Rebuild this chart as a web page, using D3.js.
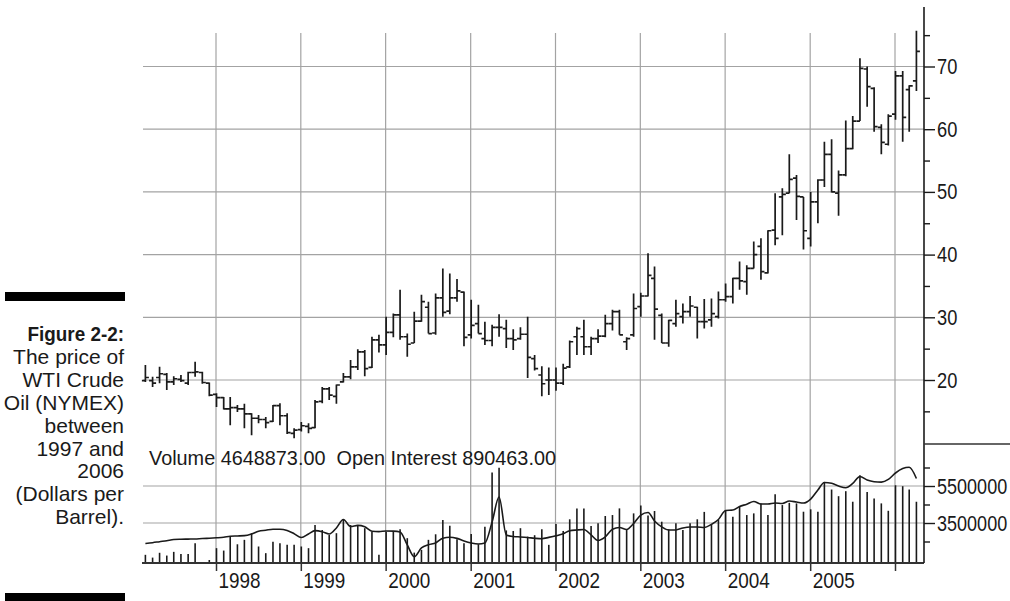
<!DOCTYPE html>
<html>
<head>
<meta charset="utf-8">
<script src="https://cdn.jsdelivr.net/npm/d3@7"></script>
<style>
  body { margin: 0; background: #fff; }
  svg text { font-family: "Liberation Sans", Arial, Helvetica, sans-serif; fill: #1a1a1a; }
</style>
</head>
<body>
<svg id="chart" width="1010" height="601"></svg>
<script>

// monthly OHLC, WTI crude (NYMEX), Mar 1997 .. Apr 2006
var openPrice = [
  19.9, 19.9, 20.4, 20.9, 19.7, 20.1, 19.5, 21.2, 21.2, 19.5,
  17.7, 17.2, 15.4, 15.6, 15.4, 14.6, 13.9, 13.7, 13.4, 15.9, 14.3, 11.5,
  12.1, 12.6, 12.4, 16.6, 18.6, 17.4, 19.7, 20.5, 22.1, 24.5, 22.0, 26.4,
  25.6, 27.6, 30.4, 26.9, 25.9, 29.4, 31.6, 27.5, 33.1, 31.0, 33.1, 34.0,
  27.2, 29.0, 26.6, 26.3, 28.4, 28.2, 26.6, 26.6, 27.3, 23.4, 20.8, 20.0,
  20.0, 19.5, 22.1, 26.9, 26.9, 25.3, 26.6, 27.0, 29.0, 30.9, 26.1, 27.2,
  31.7, 33.4, 36.2, 30.3, 25.9, 29.0, 30.1, 30.9, 31.6, 29.3, 29.6, 30.1,
  32.8, 33.3, 36.2, 35.7, 37.8, 41.3, 37.1, 43.9, 49.2, 49.8, 52.2, 49.2,
  42.6, 48.4, 51.9, 56.0, 49.8, 52.7, 56.9, 61.3, 69.6, 66.5, 60.3, 57.6,
  62.4, 68.5, 66.3, 67.7
];
var highPrice = [
  22.4, 20.5, 22.1, 21.1, 20.6, 20.8, 21.3, 22.9, 21.3, 19.6,
  17.9, 17.3, 17.3, 16.0, 16.2, 14.7, 14.4, 14.1, 16.0, 16.3, 14.7, 12.3,
  13.3, 13.1, 16.8, 18.9, 18.9, 19.3, 21.1, 23.2, 24.9, 24.8, 26.9, 27.2,
  30.1, 30.6, 34.4, 27.4, 30.9, 33.6, 32.5, 33.8, 37.8, 37.0, 36.1, 34.1,
  32.8, 32.0, 29.3, 28.8, 30.5, 29.6, 28.1, 28.4, 30.1, 24.0, 22.2, 22.0,
  22.0, 22.6, 26.3, 28.5, 29.6, 26.9, 28.1, 30.4, 31.2, 31.2, 26.8, 33.8,
  33.9, 40.2, 38.1, 30.6, 29.6, 32.8, 32.2, 33.4, 31.7, 32.9, 33.0, 34.1,
  35.4, 36.3, 38.9, 38.3, 42.1, 42.6, 43.9, 49.8, 50.6, 56.0, 52.7, 49.2,
  50.0, 52.0, 58.0, 58.4, 53.4, 61.4, 62.1, 71.3, 70.0, 66.7, 60.8, 62.4,
  69.3, 69.3, 67.0, 75.7
];
var lowPrice = [
  19.7, 18.9, 19.5, 18.4, 19.2, 19.7, 19.2, 20.5, 19.4, 17.4,
  15.7, 15.3, 12.8, 14.9, 12.3, 11.2, 13.1, 12.3, 13.3, 12.8, 11.4, 10.7,
  11.8, 11.5, 12.3, 16.3, 16.8, 16.2, 19.6, 20.1, 21.6, 20.6, 21.9, 24.4,
  24.0, 26.8, 26.4, 23.7, 25.9, 29.3, 27.4, 27.2, 30.1, 30.5, 32.5, 25.4,
  26.6, 27.4, 25.6, 25.4, 26.9, 25.1, 24.8, 26.4, 20.3, 21.5, 17.4, 17.6,
  18.3, 19.2, 21.9, 24.0, 24.0, 24.0, 25.9, 26.8, 27.9, 27.2, 24.8, 26.9,
  30.1, 33.3, 26.4, 25.9, 25.3, 28.5, 29.0, 30.1, 26.6, 28.2, 28.5, 29.8,
  32.5, 32.2, 34.4, 33.6, 37.8, 36.0, 37.0, 41.5, 43.1, 49.8, 45.5, 40.8,
  41.3, 45.0, 50.8, 49.9, 46.2, 52.5, 56.8, 61.3, 63.6, 59.6, 56.0, 57.4,
  61.5, 58.0, 59.6, 66.1
];
var closePrice = [
  20.4, 19.5, 21.0, 19.7, 20.2, 19.9, 21.2, 21.3, 19.6, 17.6,
  17.2, 15.4, 15.6, 15.4, 14.6, 13.9, 13.7, 13.2, 15.9, 14.3, 11.6, 12.0,
  12.7, 12.3, 16.5, 18.6, 17.6, 19.2, 20.5, 22.1, 24.5, 21.8, 26.4, 25.6,
  27.6, 30.4, 26.9, 25.7, 29.4, 32.5, 27.4, 33.1, 30.8, 33.1, 34.2, 26.8,
  28.7, 27.4, 26.3, 28.4, 28.4, 26.6, 26.4, 27.3, 23.6, 21.8, 19.4, 20.0,
  19.5, 21.9, 26.1, 28.2, 25.3, 26.6, 27.0, 29.0, 30.9, 27.2, 26.6, 31.4,
  33.4, 36.7, 31.3, 25.9, 29.5, 30.6, 30.9, 31.8, 29.3, 29.3, 30.6, 32.8,
  33.3, 36.2, 35.8, 37.8, 40.0, 37.3, 43.8, 42.6, 49.6, 52.0, 49.3, 43.8,
  48.4, 51.9, 56.0, 50.0, 52.7, 56.9, 61.3, 69.7, 66.8, 60.4, 57.9, 62.1,
  68.5, 61.9, 66.9, 72.4
];
var volume = [
  1780000, 1630000, 1890000, 1740000, 1940000, 1820000, 1820000, 2410000, 1380000, 1500000,
  2140000, 2010000, 2760000, 2350000, 2590000, 2950000, 2230000, 1870000, 2490000, 2410000, 2320000, 2320000,
  2230000, 2140000, 3390000, 3120000, 2850000, 2950000, 3700000, 3390000, 3390000, 3220000, 3030000, 1780000,
  3030000, 3030000, 3160000, 2680000, 1900000, 2050000, 2590000, 2890000, 3660000, 3350000, 2620000, 2410000,
  2910000, 2350000, 3300000, 6230000, 6490000, 3100000, 3070000, 3220000, 2760000, 2840000, 3160000, 2320000,
  3450000, 3070000, 3700000, 4290000, 4290000, 3340000, 3480000, 3880000, 3930000, 4290000, 3120000, 4020000,
  4450000, 3900000, 4150000, 3570000, 3160000, 3480000, 3120000, 3480000, 3700000, 4100000, 3390000, 3660000,
  4200000, 3840000, 4410000, 3930000, 4020000, 4560000, 3930000, 5060000, 4470000, 4590000, 4560000, 4110000,
  4240000, 4110000, 5720000, 5310000, 4950000, 5220000, 4650000, 6080000, 5180000, 4830000, 4560000, 4160000,
  5540000, 5490000, 5310000, 4648873
];
var openInterest = [
  436000, 442000, 449000, 456000, 464000, 466000, 467000, 468000, 471000, 473000,
  476000, 480000, 487000, 489000, 491000, 503000, 522000, 529000, 536000, 536000, 527000, 505000,
  478000, 503000, 526000, 519000, 503000, 545000, 604000, 555000, 563000, 553000, 522000, 519000,
  524000, 523000, 517000, 426000, 344000, 405000, 427000, 440000, 473000, 480000, 472000, 454000,
  440000, 433000, 440000, 587000, 761000, 496000, 485000, 482000, 478000, 473000, 470000, 479000,
  490000, 504000, 526000, 531000, 534000, 496000, 457000, 482000, 536000, 548000, 534000, 576000,
  635000, 653000, 594000, 553000, 531000, 531000, 545000, 552000, 552000, 548000, 570000, 604000,
  667000, 670000, 695000, 711000, 730000, 712000, 712000, 719000, 716000, 733000, 726000, 719000,
  747000, 810000, 863000, 857000, 838000, 826000, 856000, 905000, 880000, 868000, 865000, 884000,
  929000, 960000, 969000, 890463
];

var yearTicks = [1998, 1999, 2000, 2001, 2002, 2003, 2004, 2005, 2006];
var yearLabels = ["1998", "1999", "2000", "2001", "2002", "2003", "2004", "2005", ""];
var priceGrid = [20, 30, 40, 50, 60, 70];
var priceTicks = [15, 20, 25, 30, 35, 40, 45, 50, 55, 60, 65, 70, 75];
var volumeGrid = [3500000, 5500000];
var volumeTicks = [2500000, 3500000, 4500000, 5500000, 6500000];
var captionLines = ["Figure 2-2:", "The price of", "WTI Crude", "Oil (NYMEX)", "between",
                    "1997 and", "2006", "(Dollars per", "Barrel)."];

var months = d3.timeMonth.range(new Date(1997, 2, 1), new Date(2006, 4, 1));
var data = months.map(function(m, i) {
  return { date: m, o: openPrice[i], h: highPrice[i], l: lowPrice[i], c: closePrice[i],
           vol: volume[i], oi: openInterest[i] };
});

var left = 143, right = 924, gridTop = 33, axisTop = 7, panelSplit = 444, base = 563;

var svg = d3.select("#chart");

var x = d3.scaleTime().domain([new Date(1998, 0, 1), new Date(2006, 0, 1)]).range([216, 895]);
var yPrice = d3.scaleLinear().domain([20, 70]).range([380, 66.5]);
var yVol = d3.scaleLinear().domain([3500000, 5500000]).range([523, 486]);
var yOI = d3.scaleLinear().domain([300000, 950000]).range([563, 470]);

var gridColor = "#a3a3a3", ink = "#1a1a1a";

// squeeze text horizontally about its anchor (the original face is a condensed sans)
function condense(sel, factor) {
  sel.each(function() {
    var t = d3.select(this);
    var x0 = +t.attr("x") || 0;
    t.attr("x", 0).attr("transform", "translate(" + x0 + ",0) scale(" + factor + ",1)");
  });
}

// grid
svg.append("g").selectAll("line").data(priceGrid).enter().append("line")
    .attr("x1", left).attr("x2", right)
    .attr("y1", function(d) { return yPrice(d); }).attr("y2", function(d) { return yPrice(d); })
    .attr("stroke", gridColor).attr("stroke-width", 1.2);
svg.append("g").selectAll("line").data(volumeGrid).enter().append("line")
    .attr("x1", left).attr("x2", right)
    .attr("y1", function(d) { return yVol(d); }).attr("y2", function(d) { return yVol(d); })
    .attr("stroke", gridColor).attr("stroke-width", 1.2);
svg.append("g").selectAll("line").data(yearTicks).enter().append("line")
    .attr("x1", function(d) { return x(new Date(d, 0, 1)); })
    .attr("x2", function(d) { return x(new Date(d, 0, 1)); })
    .attr("y1", gridTop).attr("y2", base)
    .attr("stroke", gridColor).attr("stroke-width", 1.2);

// header of the lower panel
var last = data[data.length - 1];
svg.append("text")
    .attr("x", 149).attr("y", 465)
    .style("font-size", "21px").style("white-space", "pre")
    .text("Volume " + d3.format(".2f")(last.vol) + "  Open Interest " + d3.format(".2f")(last.oi))
    .call(condense, 0.945);

// OHLC bars
svg.append("g").selectAll("path").data(data).enter().append("path")
    .attr("d", function(d) {
      var cx = x(d.date) + 0.5;
      return "M" + cx + "," + yPrice(d.h) + "V" + yPrice(d.l) +
             "M" + (cx - 3.5) + "," + yPrice(d.o) + "H" + cx +
             "M" + cx + "," + yPrice(d.c) + "H" + (cx + 3.5);
    })
    .attr("fill", "none").attr("stroke", ink).attr("stroke-width", 1.7);

// volume bars
svg.append("g").selectAll("line").data(data).enter().append("line")
    .attr("x1", function(d) { return x(d.date) + 0.5; })
    .attr("x2", function(d) { return x(d.date) + 0.5; })
    .attr("y1", base).attr("y2", function(d) { return yVol(d.vol); })
    .attr("stroke", ink).attr("stroke-width", 1.6);

// open interest line
var oiLine = d3.line()
    .x(function(d) { return x(d.date) + 0.5; })
    .y(function(d) { return yOI(d.oi); })
    .curve(d3.curveMonotoneX);
svg.append("path").datum(data)
    .attr("d", oiLine)
    .attr("fill", "none").attr("stroke", ink).attr("stroke-width", 1.6)
    .attr("stroke-linejoin", "round");

// bottom baseline + year axis
svg.append("line").attr("x1", left - 1).attr("x2", right).attr("y1", base).attr("y2", base)
    .attr("stroke", "#333").attr("stroke-width", 2);

var xAxis = svg.append("g")
    .attr("transform", "translate(0," + base + ")")
    .call(d3.axisBottom(x)
      .tickValues(yearTicks.map(function(y) { return new Date(y, 0, 1); }))
      .tickSize(8)
      .tickFormat(function(d, i) { return yearLabels[i]; }));
xAxis.select(".domain").remove();
xAxis.selectAll(".tick line").attr("stroke", "#333").attr("stroke-width", 1.5);
xAxis.selectAll(".tick text")
    .attr("text-anchor", "start").attr("x", 2).attr("y", 25).attr("dy", 0)
    .style("font-size", "22px").attr("fill", ink)
    .call(condense, 0.86);

// right axes
svg.append("line").attr("x1", right).attr("x2", right).attr("y1", axisTop).attr("y2", base)
    .attr("stroke", ink).attr("stroke-width", 1.6);
svg.append("line").attr("x1", right).attr("x2", 1010).attr("y1", panelSplit).attr("y2", panelSplit)
    .attr("stroke", "#333").attr("stroke-width", 1.6);

var priceAxis = svg.append("g")
    .attr("transform", "translate(" + right + ",0)")
    .call(d3.axisRight(yPrice).tickValues(priceTicks).tickSize(11).tickPadding(2)
      .tickFormat(function(d) { return d % 10 === 0 && d >= 20 && d <= 70 ? d : ""; }));
priceAxis.select(".domain").remove();
priceAxis.selectAll(".tick line")
    .attr("x2", function(d) { return d % 10 === 0 ? 11 : 6; })
    .attr("stroke", ink).attr("stroke-width", 1.4);
priceAxis.selectAll(".tick text").style("font-size", "22px").attr("fill", ink)
    .call(condense, 0.83);

var volAxis = svg.append("g")
    .attr("transform", "translate(" + right + ",0)")
    .call(d3.axisRight(yVol).tickValues(volumeTicks).tickSize(11).tickPadding(2)
      .tickFormat(function(d) { return volumeGrid.indexOf(d) >= 0 ? d3.format("d")(d) : ""; }));
volAxis.select(".domain").remove();
volAxis.selectAll(".tick line")
    .attr("x2", function(d) { return volumeGrid.indexOf(d) >= 0 ? 11 : 6; })
    .attr("stroke", ink).attr("stroke-width", 1.4);
volAxis.selectAll(".tick text").style("font-size", "22px").attr("fill", ink)
    .call(condense, 0.82);

// caption at the left
svg.append("rect").attr("x", 5).attr("y", 292).attr("width", 120).attr("height", 9).attr("fill", "#000");
svg.append("rect").attr("x", 5).attr("y", 593).attr("width", 120).attr("height", 9).attr("fill", "#000");
svg.append("g").selectAll("text").data(captionLines).enter().append("text")
    .attr("x", 124).attr("y", function(d, i) { return 341 + i * 22.9; })
    .attr("text-anchor", "end")
    .style("font-size", "21px")
    .style("font-weight", function(d, i) { return i === 0 ? "bold" : "normal"; })
    .text(function(d) { return d; })
    .filter(function(d, i) { return i === 0; })
    .call(condense, 0.9);

</script>
</body>
</html>
